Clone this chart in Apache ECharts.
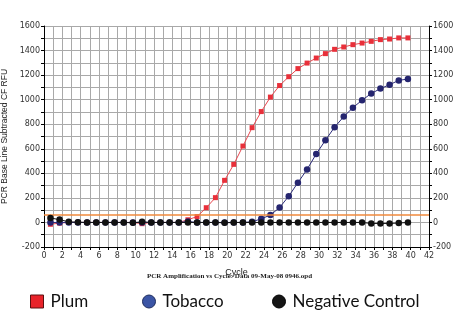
<!DOCTYPE html>
<html>
<head>
<meta charset="utf-8">
<script src="https://cdn.jsdelivr.net/npm/echarts@6/dist/echarts.min.js"></script>
<style>
html,body{margin:0;padding:0;background:#fff;}
#chart{width:459px;height:334px;}
</style>
</head>
<body>
<div id="chart"></div>
<script>
var cycles = [0.7,1.7,2.7,3.7,4.7,5.7,6.7,7.7,8.7,9.7,10.7,11.7,12.7,13.7,14.7,15.7,16.7,17.7,18.7,19.7,20.7,21.7,22.7,23.7,24.7,25.7,26.7,27.7,28.7,29.7,30.7,31.7,32.7,33.7,34.7,35.7,36.7,37.7,38.7,39.7];
var plum = [-15,-5,0,0,0,0,0,0,0,0,-10,0,0,0,0,22,48,120,202,343,473,622,772,903,1021,1115,1187,1253,1298,1339,1375,1410,1429,1448,1461,1475,1489,1494,1503,1503];
var tobacco = [0,0,0,0,0,0,0,0,0,0,0,0,0,0,0,8,0,0,0,0,0,0,5,30,60,121,214,324,432,558,669,776,862,935,996,1050,1090,1122,1157,1168];
var negative = [36,23,5,2,0,0,0,0,0,-3,5,0,0,0,0,0,0,0,0,-3,0,0,0,0,0,0,0,0,0,0,0,0,0,0,0,-8,-8,-8,-5,0];
var threshold = 63;
var seriesNames = ['Plum','Tobacco','Negative Control'];
var xAxisName = 'Cycle';
var yAxisName = 'PCR Base Line Subtracted CF RFU';
var footnote = 'PCR Amplification vs Cycle: Data 09-May-08 0946.opd';

function pairs(vals){ return cycles.map(function(c,i){ return [c, vals[i]]; }); }

var gridColor = '#a9a9a9';
var labelStyle = {color:'#333', fontFamily:'DejaVu Sans', fontSize:8, formatter:function(v){ return String(v); }};

function yAxisCfg(pos){
  return {
    type:'value', position:pos, min:-200, max:1600, interval:200,
    axisLine:{show:true, lineStyle:{color:'#000', width:1}},
    axisTick:{show:true, length:3, lineStyle:{color:'#000'}},
    minorTick:{show:true, splitNumber:2, length:3, lineStyle:{color:'#000'}},
    splitLine:{show:pos==='left', lineStyle:{color:gridColor, width:1}},
    minorSplitLine:{show:pos==='left', lineStyle:{color:gridColor, width:1}},
    axisLabel:Object.assign({margin:4}, labelStyle),
    name: pos==='left' ? yAxisName : '',
    nameLocation:'middle', nameGap:29, nameRotate:90,
    nameTextStyle:{color:'#222', fontFamily:'Liberation Sans', fontSize:8.5}
  };
}

var chart = echarts.init(document.getElementById('chart'), null, {renderer:'canvas'});
chart.setOption({
  animation:false,
  backgroundColor:'#fff',
  title:{
    text:footnote, left:'center', top:273, padding:0,
    textStyle:{fontFamily:'Liberation Serif', fontWeight:'bold', fontSize:7, color:'#222'}
  },
  grid:{left:44, right:30, top:26, bottom:87, containLabel:false, outerBoundsMode:'none'},
  xAxis:{
    type:'value', min:0, max:42, interval:2,
    axisLine:{onZero:false, lineStyle:{color:'#000', width:1}},
    axisTick:{show:true, length:3, lineStyle:{color:'#000'}},
    minorTick:{show:true, splitNumber:2, length:3, lineStyle:{color:'#000'}},
    splitLine:{show:true, lineStyle:{color:gridColor, width:1}},
    minorSplitLine:{show:true, lineStyle:{color:gridColor, width:1}},
    axisLabel:Object.assign({margin:5}, labelStyle),
    name:xAxisName, nameLocation:'middle', nameGap:21,
    nameTextStyle:{color:'#222', fontFamily:'Liberation Sans', fontSize:9}
  },
  yAxis:[yAxisCfg('left'), yAxisCfg('right')],
  legend:[
    {left:25, top:288, itemWidth:13, itemHeight:13, itemGap:0,
     textStyle:{fontFamily:'Lato', fontSize:17, color:'#111', padding:[0,0,0,2]},
     data:[{name:seriesNames[0], icon:'rect', itemStyle:{color:'#e8232a', borderColor:'#5a1010', borderWidth:1}}]},
    {left:137, top:288, itemWidth:13, itemHeight:13,
     textStyle:{fontFamily:'Lato', fontSize:17, color:'#111', padding:[0,0,0,2]},
     data:[{name:seriesNames[1], icon:'circle', itemStyle:{color:'#3b55a5', borderColor:'#1d2c5e', borderWidth:1}}]},
    {left:267, top:288, itemWidth:13, itemHeight:13,
     textStyle:{fontFamily:'Lato', fontSize:17, color:'#111', padding:[0,0,0,2]},
     data:[{name:seriesNames[2], icon:'circle', itemStyle:{color:'#151515', borderColor:'#000', borderWidth:1}}]}
  ],
  series:[
    {name:seriesNames[0], type:'line', data:pairs(plum), symbol:'rect', symbolSize:5,
     itemStyle:{color:'#e8303a'}, lineStyle:{color:'#e8474f', width:1}, z:3,
     markLine:{silent:true, symbol:'none', label:{show:false},
       lineStyle:{color:'#f08a3c', width:1.5, type:'solid'},
       data:[{yAxis:threshold}]}},
    {name:seriesNames[1], type:'line', data:pairs(tobacco), symbol:'circle', symbolSize:6.5,
     itemStyle:{color:'#25256f'}, lineStyle:{color:'#2b2b7a', width:1}, z:4},
    {name:seriesNames[2], type:'line', data:pairs(negative), symbol:'circle', symbolSize:6.5,
     itemStyle:{color:'#111'}, lineStyle:{color:'#111', width:1}, z:5}
  ]
});
</script>
</body>
</html>
